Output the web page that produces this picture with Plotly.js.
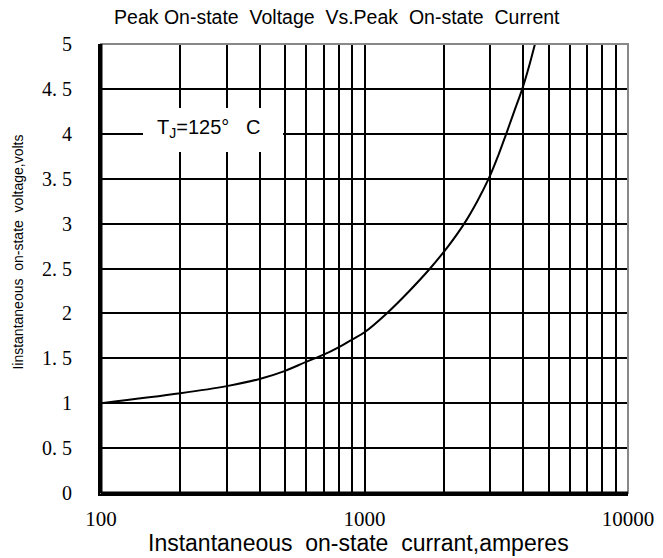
<!DOCTYPE html>
<html>
<head>
<meta charset="utf-8">
<script src="https://cdn.plot.ly/plotly-3.0.1.min.js"></script>
<style>html,body{margin:0;padding:0;background:#fff;}#chart{width:663px;height:558px;}</style>
</head>
<body>
<div id="chart"></div>
<script>
const current = [100, 200, 300, 400, 500, 600, 700, 800, 900, 1000, 1214, 1480, 1773, 2080, 2390, 2680, 2960, 3210, 3450, 3700, 3970, 4210, 4436];
const voltage = [1.0, 1.11, 1.19, 1.27, 1.36, 1.46, 1.54, 1.625, 1.71, 1.79, 2.0, 2.25, 2.5, 2.75, 3.0, 3.25, 3.5, 3.75, 4.0, 4.25, 4.5, 4.75, 5.0];
const xTickVals = [100, 1000, 10000];
const xTickText = ['100', '1000', '10000'];
const yTickVals = [0, 0.5, 1, 1.5, 2, 2.5, 3, 3.5, 4, 4.5, 5];
const yTickText = ['0', '0. 5', '1', '1. 5', '2', '2. 5', '3', '3. 5', '4', '4. 5', '5'];

const trace = {
  x: current, y: voltage, type: 'scatter', mode: 'lines',
  line: {color: '#000', width: 2, shape: 'spline', smoothing: 1},
  hoverinfo: 'skip', cliponaxis: true
};

const sans = 'Liberation Sans, Arial, sans-serif';
const serif = 'Liberation Serif, Times New Roman, serif';

const layout = {
  width: 663, height: 558,
  margin: {l: 101, r: 35, t: 44, b: 65},
  paper_bgcolor: '#fff', plot_bgcolor: '#fff',
  showlegend: false,
  title: {text: 'Peak On-state  Voltage  Vs.Peak  On-state  Current',
          font: {family: sans, size: 19.5, color: '#000'},
          x: 0.508, xanchor: 'center', y: 0.969, yanchor: 'middle', yref: 'container'},
  xaxis: {
    type: 'log', range: [2, 4],
    tickvals: xTickVals, ticktext: xTickText,
    tickfont: {family: serif, size: 21, color: '#000'},
    ticks: '', ticklabelstandoff: 5,
    showgrid: true, gridcolor: '#000', gridwidth: 2,
    minor: {dtick: 'D1', showgrid: true, gridcolor: '#000', gridwidth: 2, ticks: ''},
    showline: true, linecolor: '#000', linewidth: 3,
    zeroline: false
  },
  yaxis: {
    range: [0, 5],
    tickvals: yTickVals, ticktext: yTickText,
    tickfont: {family: serif, size: 20, color: '#000'},
    ticks: '', ticklabelstandoff: 22,
    showgrid: true, gridcolor: '#000', gridwidth: 2,
    showline: true, linecolor: '#000', linewidth: 3,
    zeroline: false
  },
  shapes: [
    {type: 'rect', xref: 'paper', yref: 'paper', x0: 0.0797, x1: 0.3454, y0: 0.7595, y1: 0.8575,
     line: {width: 0}, fillcolor: '#fff', layer: 'above'},
    {type: 'rect', xref: 'paper', yref: 'paper', x0: 0, x1: 1, y0: 0, y1: 1,
     line: {color: '#888', width: 2}, fillcolor: 'rgba(0,0,0,0)', layer: 'above'},
    {type: 'line', xref: 'paper', yref: 'paper', x0: 0, x1: 0, y0: 0, y1: 1,
     line: {color: '#000', width: 3}, layer: 'above'},
    {type: 'line', xref: 'paper', yref: 'paper', x0: 0, x1: 1, y0: 0, y1: 0,
     line: {color: '#000', width: 3}, layer: 'above'}
  ],
  annotations: [
    {text: 'T<sub>J</sub>=125°   C', xref: 'paper', yref: 'paper', x: 0.204, y: 0.8107,
     xanchor: 'center', yanchor: 'middle', showarrow: false,
     font: {family: sans, size: 20, color: '#000'}},
    {text: 'Instantaneous  on-state  currant,amperes', xref: 'paper', yref: 'paper',
     x: 0.4877, y: -0.1114, xanchor: 'center', yanchor: 'middle', showarrow: false,
     font: {family: sans, size: 23, color: '#000'}},
    {text: 'Iinstantaneous  on-state  voltage,volts', xref: 'paper', yref: 'paper',
     x: -0.158, y: 0.537, xanchor: 'center', yanchor: 'middle', showarrow: false, textangle: -90,
     font: {family: sans, size: 14, color: '#000'}}
  ]
};

Plotly.newPlot('chart', [trace], layout, {displayModeBar: false, staticPlot: true});
</script>
</body>
</html>
